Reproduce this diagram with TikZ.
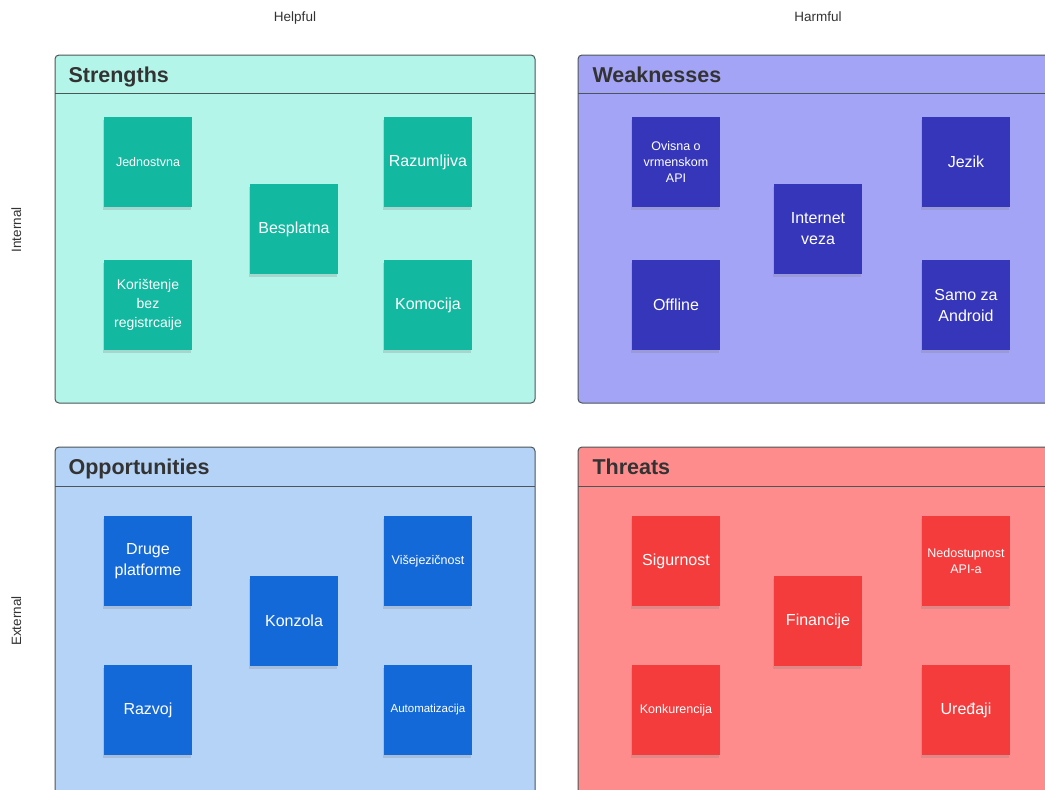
\documentclass[tikz,border=0pt]{standalone}
\usepackage{fontspec}
\setmainfont{Liberation Sans}
\usetikzlibrary{shadows}
\definecolor{sback}{HTML}{B4F5EA}
\definecolor{snote}{HTML}{12B89F}
\definecolor{wback}{HTML}{A4A4F7}
\definecolor{wnote}{HTML}{3636BA}
\definecolor{oback}{HTML}{B4D3F7}
\definecolor{onote}{HTML}{1469D9}
\definecolor{tback}{HTML}{FE8C8C}
\definecolor{tnote}{HTML}{F53C3C}
\definecolor{frame}{HTML}{4D5656}
\tikzset{
  sticky/.style={minimum width=88pt, minimum height=90pt, inner sep=2pt, align=center, text=white,
    drop shadow={shadow xshift=-1.5pt, shadow yshift=-3pt, opacity=0.25}},
  quadbox/.style={draw=frame, line width=1pt, rounded corners=4pt},
  quadtitle/.style={anchor=base west, font=\fontsize{21.5}{25}\selectfont\bfseries, text=black!80},
  axislabel/.style={anchor=base, font=\fontsize{13.5}{16}\selectfont, text=black!80},
  big/.style={font=\fontsize{16}{21}\selectfont},
  small/.style={font=\fontsize{12.5}{16}\selectfont},
}
\begin{document}
\begin{tikzpicture}[x=1pt,y=-1pt]
	\clip (0,0) rectangle (1045,790);
	\fill[white] (0,0) rectangle (1045,790);

	\node[axislabel] (helpful) at (295,21) {Helpful};
	\node[axislabel] (harmful) at (818,21) {Harmful};
	\node[rotate=90, axislabel] (internal) at (21,230) {Internal};
	\node[rotate=90, axislabel] (external) at (21,621) {External};

	\draw[quadbox, fill=sback] (55,55) rectangle (535,403);
	\draw[frame, line width=1pt] (55,93) -- (535,93);
	\node[quadtitle] (strengths) at (65,82) {Strengths};
	\draw[quadbox, fill=wback] (578,55) rectangle (1060,403);
	\draw[frame, line width=1pt] (578,93) -- (1060,93);
	\node[quadtitle] (weaknesses) at (589,82) {Weaknesses};
	\draw[quadbox, fill=oback] (55,447) rectangle (535,805);
	\draw[frame, line width=1pt] (55,486) -- (535,486);
	\node[quadtitle] (opportunities) at (65,474) {Opportunities};
	\draw[quadbox, fill=tback] (578,447) rectangle (1060,805);
	\draw[frame, line width=1pt] (578,486) -- (1060,486);
	\node[quadtitle] (threats) at (589,474) {Threats};

	\node[sticky, fill=snote, small] (jednostvna) at (148,162) {Jednostvna};
	\node[sticky, fill=snote, big] (besplatna) at (294,229) {Besplatna};
	\node[sticky, fill=snote, big] (razumljiva) at (428,162) {Razumljiva};
	\node[sticky, fill=snote, font=\fontsize{14}{19}\selectfont] (koristenje) at (148,305) {Korištenje\\bez\\registrcaije};
	\node[sticky, fill=snote, big] (komocija) at (428,305) {Komocija};

	\node[sticky, fill=wnote, small] (ovisna) at (676,162) {Ovisna o\\vrmenskom\\API};
	\node[sticky, fill=wnote, big] (internet) at (818,229) {Internet\\veza};
	\node[sticky, fill=wnote, big] (jezik) at (966,162) {Jezik};
	\node[sticky, fill=wnote, big] (offline) at (676,305) {Offline};
	\node[sticky, fill=wnote, big] (android) at (966,305) {Samo za\\Android};

	\node[sticky, fill=onote, big] (druge) at (148,561) {Druge\\platforme};
	\node[sticky, fill=onote, big] (konzola) at (294,621) {Konzola};
	\node[sticky, fill=onote, small] (visejezicnost) at (428,561) {Višejezičnost};
	\node[sticky, fill=onote, big] (razvoj) at (148,710) {Razvoj};
	\node[sticky, fill=onote, font=\fontsize{11.5}{14}\selectfont] (automatizacija) at (428,710) {Automatizacija};

	\node[sticky, fill=tnote, big] (sigurnost) at (676,561) {Sigurnost};
	\node[sticky, fill=tnote, big] (financije) at (818,621) {Financije};
	\node[sticky, fill=tnote, small] (nedostupnost) at (966,561) {Nedostupnost\\API-a};
	\node[sticky, fill=tnote, small] (konkurencija) at (676,710) {Konkurencija};
	\node[sticky, fill=tnote, big] (uredaji) at (966,710) {Uređaji};
\end{tikzpicture}
\end{document}
